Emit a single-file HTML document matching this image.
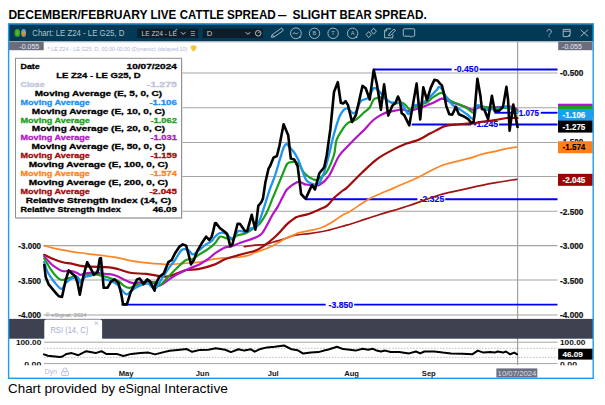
<!DOCTYPE html>
<html><head><meta charset="utf-8"><style>
html,body{margin:0;padding:0;background:#fff;}
body{width:605px;height:405px;overflow:hidden;position:relative;font-family:"Liberation Sans", sans-serif;}
svg{position:absolute;left:0;top:0;}
svg text{font-family:"Liberation Sans", sans-serif;}
</style></head><body>
<svg width="605" height="405" viewBox="0 0 605 405">
<rect x="8" y="23" width="585.5" height="355.5" fill="#ffffff"/>
<rect x="8" y="23.6" width="585.5" height="17.8" fill="#023954"/>
<rect x="8" y="41.4" width="585" height="1.3" fill="#c0c4c8" opacity="0.6"/>
<ellipse cx="17.3" cy="32.9" rx="2.9" ry="3.9" fill="#3c9e22"/>
<ellipse cx="17.3" cy="32.9" rx="1.1" ry="2.6" fill="#52c030"/>
<ellipse cx="23.6" cy="32.9" rx="2.5" ry="3.9" fill="#8a98a8"/>
<ellipse cx="23.6" cy="31.6" rx="1.6" ry="1.6" fill="#48a8e0"/>
<ellipse cx="23.6" cy="34.2" rx="1.6" ry="2" fill="#f07818"/>
<ellipse cx="23.6" cy="33" rx="1.4" ry="0.8" fill="#c8c020"/>
<text x="32.3" y="35.9" font-size="8.3" fill="#b4c2ce" font-weight="normal" text-anchor="start" textLength="92" lengthAdjust="spacingAndGlyphs">Chart: LE Z24 - LE G25, D</text>
<rect x="137.3" y="28.7" width="60.8" height="9.3" fill="#0d1e2a"/>
<text x="141.6" y="35.8" font-size="7.6" fill="#c8ccd0" font-weight="normal" text-anchor="start" textLength="35.4" lengthAdjust="spacingAndGlyphs">LE Z24 - LE</text>
<path d="M174.6 31.2 l2.6 -2.2" stroke="#3a9ee0" stroke-width="1.1"/>
<path d="M181 32.2 L183.2 34.4 L185.4 32.2" stroke="#c8ccd0" stroke-width="1" fill="none"/>
<path d="M190.8 31.5 h4.2 M190.8 33.5 h4.2 M190.8 35.5 h4.2" stroke="#98a4ae" stroke-width="0.8"/>
<rect x="202.9" y="28.7" width="59.9" height="9.3" fill="#0d1e2a"/>
<text x="206.8" y="35.8" font-size="7.6" fill="#c8ccd0" font-weight="normal" text-anchor="start">D</text>
<path d="M245.7 32.2 L247.9 34.4 L250.1 32.2" stroke="#c8ccd0" stroke-width="1" fill="none"/>
<circle cx="258.2" cy="33.3" r="2.8" stroke="#c8ccd0" stroke-width="0.9" fill="none"/>
<path d="M258.2 33.3 L259.6 31.8" stroke="#c8ccd0" stroke-width="0.9"/>
<path d="M271.2 37.2 L272.33 34.58 L281.63 27.98 L283.37 30.42 L274.07 37.02 Z M272.33 34.58 L274.07 37.02" stroke="#b4c0c8" stroke-width="0.9" fill="none" stroke-linejoin="round"/>
<circle cx="295.9" cy="33.3" r="5.4" stroke="#b4c0c8" stroke-width="0.9" fill="none"/>
<path d="M292.6 34.2 Q294 31.6 295.3 33.4 Q296.6 35 298.2 32.4" stroke="#b4c0c8" stroke-width="0.9" fill="none"/>
<circle cx="299.8" cy="37.2" r="0.9" fill="#b4c0c8"/>
<circle cx="314.5" cy="33.3" r="5.2" stroke="#b4c0c8" stroke-width="0.9" fill="none"/>
<text x="314.5" y="35.3" font-size="5.8" fill="#a8b4bc" font-weight="normal" text-anchor="middle">B</text>
<circle cx="333.1" cy="33.3" r="5.2" stroke="#b4c0c8" stroke-width="0.9" fill="none"/>
<text x="333.1" y="35.3" font-size="5.8" fill="#a8b4bc" font-weight="normal" text-anchor="middle">T</text>
<circle cx="352.6" cy="33.3" r="5.2" stroke="#b4c0c8" stroke-width="0.9" fill="none"/>
<text x="352.6" y="35.3" font-size="5.8" fill="#a8b4bc" font-weight="normal" text-anchor="middle">A</text>
<circle cx="356.4" cy="37.1" r="0.9" fill="#b4c0c8"/>
<path d="M368.7 31.6 l2.6 3 l-2.6 3 l-2.6 -3 z M373.7 28.2 l2.6 3 l-2.6 3 l-2.6 -3 z" stroke="#b4c0c8" stroke-width="0.9" fill="none" stroke-linejoin="round"/>
<path d="M386.6 28.8 h4.6 M386.6 28.8 l-2 2 v7 h8.2 v-3.4 M384.6 30.8 h2 v-2" stroke="#b4c0c8" stroke-width="0.9" fill="none" stroke-linejoin="round"/>
<path d="M388.6 35.6 l0.4 -1.8 l5 -4.8 l1.5 1.5 l-5 4.8 z" stroke="#b4c0c8" stroke-width="0.9" fill="none" stroke-linejoin="round"/>
<path d="M404.2 28.8 h9.6 a0.9 0.9 0 0 1 0.9 0.9 v5.6 a0.9 0.9 0 0 1 -0.9 0.9 h-1.6 l-1 1.2 l-1 -1.2 h-6 a0.9 0.9 0 0 1 -0.9 -0.9 v-5.6 a0.9 0.9 0 0 1 0.9 -0.9 z" stroke="#b4c0c8" stroke-width="0.9" fill="none" stroke-linejoin="round"/>
<path d="M547 31.6 a2.2 2.2 0 1 1 3.2 2 c-0.9 0.5 -1.1 0.9 -1.1 1.8" stroke="#b4c0c8" stroke-width="0.9" fill="none"/>
<circle cx="549.1" cy="36.6" r="0.55" fill="#b4c0c8"/>
<path d="M563.2 29.4 h7 v4.8 l-2.4 2.4 h-4.6 z M563.2 31.3 h7" stroke="#b4c0c8" stroke-width="0.9" fill="none"/>
<path d="M567.6 36.6 l2.6 -2.6 v2.6 z" fill="#b4c0c8"/>
<path d="M580.6 29.8 l7.4 6.5 M588 29.8 l-7.4 6.5" stroke="#b4c0c8" stroke-width="0.9"/>
<line x1="43.5" y1="73.0" x2="557.5" y2="73.0" stroke="#a4a4a4" stroke-width="1.05"/>
<line x1="43.5" y1="107.8" x2="557.5" y2="107.8" stroke="#a4a4a4" stroke-width="1.05"/>
<line x1="43.5" y1="142.5" x2="557.5" y2="142.5" stroke="#a4a4a4" stroke-width="1.05"/>
<line x1="43.5" y1="176.5" x2="557.5" y2="176.5" stroke="#a4a4a4" stroke-width="1.05"/>
<line x1="43.5" y1="211.3" x2="557.5" y2="211.3" stroke="#a4a4a4" stroke-width="1.05"/>
<line x1="43.5" y1="245.6" x2="557.5" y2="245.6" stroke="#a4a4a4" stroke-width="1.05"/>
<line x1="43.5" y1="280.0" x2="557.5" y2="280.0" stroke="#a4a4a4" stroke-width="1.05"/>
<line x1="43.5" y1="314.9" x2="557.5" y2="314.9" stroke="#a4a4a4" stroke-width="1.05"/>
<line x1="517.6" y1="42" x2="517.6" y2="365.5" stroke="#a0a0a6" stroke-width="1.2"/>
<rect x="9" y="41.8" width="34.7" height="8.4" fill="#6b6d7d"/>
<text x="19.3" y="48.7" font-size="7.3" fill="#e6e8f0" font-weight="normal" text-anchor="start" textLength="20" lengthAdjust="spacingAndGlyphs">-0.055</text>
<text x="47.7" y="50.5" font-size="5.2" fill="#b0b4d8" font-weight="normal" text-anchor="start" textLength="139.7" lengthAdjust="spacingAndGlyphs">* LE Z24 - LE G25, D, 00:00-00:00 (Dynamic) (delayed 10)</text>
<path d="M190.6 46.2 q3 -2 6.2 0.2 q-0.3 3.4 -3 5.2 q-3.2 -1.6 -3.2 -5.4z" fill="#f6c43a"/>
<rect x="558.2" y="41.8" width="34.3" height="8.4" fill="#6b6d7d"/>
<text x="562.1" y="48.7" font-size="7.3" fill="#e6e8f0" font-weight="normal" text-anchor="start" textLength="19.8" lengthAdjust="spacingAndGlyphs">-0.055</text>
<text x="41.1" y="249.15000000000003" font-size="8.2" fill="#101010" font-weight="bold" text-anchor="end" textLength="22.8" lengthAdjust="spacingAndGlyphs" stroke="#101010" stroke-width="0.2">-3.000</text>
<text x="41.1" y="283.72" font-size="8.2" fill="#101010" font-weight="bold" text-anchor="end" textLength="22.8" lengthAdjust="spacingAndGlyphs" stroke="#101010" stroke-width="0.2">-3.500</text>
<text x="41.1" y="318.29" font-size="8.2" fill="#101010" font-weight="bold" text-anchor="end" textLength="22.8" lengthAdjust="spacingAndGlyphs" stroke="#101010" stroke-width="0.2">-4.000</text>
<text x="45.5" y="316.5" font-size="5.2" fill="#909090" font-weight="normal" text-anchor="start" textLength="41" lengthAdjust="spacingAndGlyphs">© eSignal, 2024</text>
<text x="560.1" y="76.3" font-size="8.2" fill="#101010" font-weight="bold" text-anchor="start" textLength="23.2" lengthAdjust="spacingAndGlyphs" stroke="#101010" stroke-width="0.2">-0.500</text>
<text x="560.1" y="145.44000000000003" font-size="8.2" fill="#101010" font-weight="bold" text-anchor="start" textLength="23.2" lengthAdjust="spacingAndGlyphs" stroke="#101010" stroke-width="0.2">-1.500</text>
<text x="560.1" y="214.58" font-size="8.2" fill="#101010" font-weight="bold" text-anchor="start" textLength="23.2" lengthAdjust="spacingAndGlyphs" stroke="#101010" stroke-width="0.2">-2.500</text>
<text x="560.1" y="249.15000000000003" font-size="8.2" fill="#101010" font-weight="bold" text-anchor="start" textLength="23.2" lengthAdjust="spacingAndGlyphs" stroke="#101010" stroke-width="0.2">-3.000</text>
<text x="560.1" y="283.72" font-size="8.2" fill="#101010" font-weight="bold" text-anchor="start" textLength="23.2" lengthAdjust="spacingAndGlyphs" stroke="#101010" stroke-width="0.2">-3.500</text>
<text x="560.1" y="318.29" font-size="8.2" fill="#101010" font-weight="bold" text-anchor="start" textLength="23.2" lengthAdjust="spacingAndGlyphs" stroke="#101010" stroke-width="0.2">-4.000</text>
<line x1="373.5" y1="69.54" x2="451.7" y2="69.54" stroke="#0000f0" stroke-width="1.9"/>
<line x1="479.6" y1="69.54" x2="557.5" y2="69.54" stroke="#0000f0" stroke-width="1.9"/>
<text x="453.9" y="72.44" font-size="8.2" fill="#0000f0" font-weight="bold" text-anchor="start" textLength="24.6" lengthAdjust="spacingAndGlyphs" stroke="#0000f0" stroke-width="0.15">-0.450</text>
<line x1="494.5" y1="112.76" x2="517" y2="112.76" stroke="#0000f0" stroke-width="1.9"/>
<line x1="540.7" y1="112.76" x2="557.5" y2="112.76" stroke="#0000f0" stroke-width="1.9"/>
<text x="518.7" y="115.66" font-size="8.2" fill="#0000f0" font-weight="bold" text-anchor="start" textLength="20.3" lengthAdjust="spacingAndGlyphs" stroke="#0000f0" stroke-width="0.15">1.075</text>
<line x1="411.7" y1="124.51" x2="471" y2="124.51" stroke="#0000f0" stroke-width="1.9"/>
<line x1="499.1" y1="124.51" x2="557.5" y2="124.51" stroke="#0000f0" stroke-width="1.9"/>
<text x="473.5" y="127.41" font-size="8.2" fill="#0000f0" font-weight="bold" text-anchor="start" textLength="24.6" lengthAdjust="spacingAndGlyphs" stroke="#0000f0" stroke-width="0.15">-1.245</text>
<line x1="305.7" y1="199.18" x2="417.4" y2="199.18" stroke="#0000f0" stroke-width="1.9"/>
<line x1="445.3" y1="199.18" x2="557.5" y2="199.18" stroke="#0000f0" stroke-width="1.9"/>
<text x="419.7" y="202.08" font-size="8.2" fill="#0000f0" font-weight="bold" text-anchor="start" textLength="24.5" lengthAdjust="spacingAndGlyphs" stroke="#0000f0" stroke-width="0.15">-2.325</text>
<line x1="121.5" y1="304.62" x2="325.7" y2="304.62" stroke="#0000f0" stroke-width="1.9"/>
<line x1="354.2" y1="304.62" x2="557.5" y2="304.62" stroke="#0000f0" stroke-width="1.9"/>
<text x="328.6" y="307.52" font-size="8.2" fill="#0000f0" font-weight="bold" text-anchor="start" textLength="24.4" lengthAdjust="spacingAndGlyphs" stroke="#0000f0" stroke-width="0.15">-3.850</text>
<path d="M244.30 246.70 C246.08 246.43 251.57 245.47 255.00 245.10 C258.43 244.73 261.82 245.02 264.90 244.50 C267.98 243.98 270.62 242.82 273.50 242.00 C276.38 241.18 278.62 240.73 282.20 239.60 C285.78 238.47 290.47 236.20 295.00 235.20 C299.53 234.20 304.03 234.38 309.40 233.60 C314.77 232.82 321.27 231.83 327.20 230.50 C333.13 229.17 341.20 226.65 345.00 225.60 C348.80 224.55 347.50 224.97 350.00 224.20 C352.50 223.43 355.03 222.62 360.00 221.00 C364.97 219.38 371.55 217.08 379.80 214.50 C388.05 211.92 399.58 208.75 409.50 205.50 C419.42 202.25 429.38 197.88 439.30 195.00 C449.22 192.12 460.07 190.17 469.00 188.20 C477.93 186.23 484.95 184.68 492.90 183.20 C500.85 181.72 512.73 179.95 516.70 179.30" fill="none" stroke="#a01414" stroke-width="1.7" stroke-linejoin="round" stroke-linecap="round"/>
<path d="M44.20 245.60 C46.30 246.15 52.23 247.90 56.80 248.90 C61.37 249.90 66.67 250.82 71.60 251.60 C76.53 252.38 79.20 252.67 86.40 253.60 C93.60 254.53 107.28 255.98 114.80 257.20 C122.32 258.42 126.25 259.97 131.50 260.90 C136.75 261.83 140.17 262.22 146.30 262.80 C152.43 263.38 162.03 264.32 168.30 264.40 C174.57 264.48 178.72 263.67 183.90 263.30 C189.08 262.93 194.22 262.93 199.40 262.20 C204.58 261.47 207.52 259.88 215.00 258.90 C222.48 257.92 237.63 257.37 244.30 256.30 C250.97 255.23 251.17 253.85 255.00 252.50 C258.83 251.15 263.60 249.73 267.30 248.20 C271.00 246.67 274.10 244.95 277.20 243.30 C280.30 241.65 282.93 239.75 285.90 238.30 C288.87 236.85 293.05 235.48 295.00 234.60 C296.95 233.72 295.20 233.65 297.60 233.00 C300.00 232.35 305.45 231.57 309.40 230.70 C313.35 229.83 317.83 229.03 321.30 227.80 C324.77 226.57 327.23 225.03 330.20 223.30 C333.17 221.57 336.63 219.00 339.10 217.40 C341.57 215.80 343.18 214.70 345.00 213.70 C346.82 212.70 345.70 214.02 350.00 211.40 C354.30 208.78 363.37 201.97 370.80 198.00 C378.23 194.03 386.65 191.07 394.60 187.60 C402.55 184.13 410.55 180.92 418.50 177.20 C426.45 173.48 433.88 168.43 442.30 165.30 C450.72 162.17 462.87 160.12 469.00 158.40 C475.13 156.68 475.90 155.95 479.10 155.00 C482.30 154.05 485.17 153.38 488.20 152.70 C491.23 152.02 494.27 151.58 497.30 150.90 C500.33 150.22 503.15 149.25 506.40 148.60 C509.65 147.95 515.07 147.27 516.80 147.00" fill="none" stroke="#ff8424" stroke-width="1.7" stroke-linejoin="round" stroke-linecap="round"/>
<path d="M44.20 254.80 C45.82 255.55 50.82 258.07 53.90 259.30 C56.98 260.53 59.75 261.47 62.70 262.20 C65.65 262.93 68.63 263.08 71.60 263.70 C74.57 264.32 77.28 265.40 80.50 265.90 C83.72 266.40 86.10 266.45 90.90 266.70 C95.70 266.95 104.70 266.97 109.30 267.40 C113.90 267.83 114.80 268.37 118.50 269.30 C122.20 270.23 126.87 272.23 131.50 273.00 C136.13 273.77 140.53 273.28 146.30 273.90 C152.07 274.52 160.95 276.80 166.10 276.70 C171.25 276.60 173.87 274.42 177.20 273.30 C180.53 272.18 182.40 270.73 186.10 270.00 C189.80 269.27 194.58 269.83 199.40 268.90 C204.22 267.97 210.73 266.00 215.00 264.40 C219.27 262.80 220.87 260.90 225.00 259.30 C229.13 257.70 234.80 256.23 239.80 254.80 C244.80 253.37 251.43 251.90 255.00 250.70 C258.57 249.50 259.15 248.83 261.20 247.60 C263.25 246.37 265.25 244.85 267.30 243.30 C269.35 241.75 271.43 240.15 273.50 238.30 C275.57 236.45 277.43 234.57 279.70 232.20 C281.97 229.83 284.55 226.47 287.10 224.10 C289.65 221.73 293.25 219.23 295.00 218.00 C296.75 216.77 295.20 217.42 297.60 216.70 C300.00 215.98 305.70 214.93 309.40 213.70 C313.10 212.47 316.83 210.65 319.80 209.30 C322.77 207.95 324.73 207.58 327.20 205.60 C329.67 203.62 331.88 200.00 334.60 197.40 C337.32 194.80 341.53 191.55 343.50 190.00 C345.47 188.45 343.33 190.98 346.40 188.10 C349.47 185.22 356.83 177.50 361.90 172.70 C366.97 167.90 371.83 163.02 376.80 159.30 C381.77 155.58 386.75 153.02 391.70 150.40 C396.65 147.78 402.12 145.33 406.50 143.60 C410.88 141.87 414.08 141.68 418.00 140.00 C421.92 138.32 426.77 135.20 430.00 133.50 C433.23 131.80 434.93 131.03 437.40 129.80 C439.87 128.57 441.83 126.97 444.80 126.10 C447.77 125.23 451.50 125.02 455.20 124.60 C458.90 124.18 463.80 123.85 467.00 123.60 C470.20 123.35 471.68 123.42 474.40 123.10 C477.12 122.78 479.90 122.18 483.30 121.70 C486.70 121.22 490.90 120.82 494.80 120.20 C498.70 119.58 502.92 118.37 506.70 118.00 C510.48 117.63 515.70 118.00 517.50 118.00" fill="none" stroke="#a00a0a" stroke-width="2.2" stroke-linejoin="round" stroke-linecap="round"/>
<path d="M44.20 256.30 C45.32 257.53 48.80 261.73 50.90 263.70 C53.00 265.67 54.83 266.87 56.80 268.10 C58.77 269.33 60.23 270.60 62.70 271.10 C65.17 271.60 69.12 270.73 71.60 271.10 C74.08 271.47 76.12 272.68 77.60 273.30 C79.08 273.92 79.03 274.80 80.50 274.80 C81.97 274.80 84.17 273.67 86.40 273.30 C88.63 272.93 90.70 272.50 93.90 272.60 C97.10 272.70 102.42 273.53 105.60 273.90 C108.78 274.27 110.85 274.33 113.00 274.80 C115.15 275.27 116.35 275.77 118.50 276.70 C120.65 277.63 123.43 279.33 125.90 280.40 C128.37 281.47 130.52 282.80 133.30 283.10 C136.08 283.40 139.50 282.35 142.60 282.20 C145.70 282.05 149.10 281.63 151.90 282.20 C154.70 282.77 156.67 285.97 159.40 285.60 C162.13 285.23 165.33 281.87 168.30 280.00 C171.27 278.13 173.87 276.25 177.20 274.40 C180.53 272.55 184.60 270.57 188.30 268.90 C192.00 267.23 196.07 266.07 199.40 264.40 C202.73 262.73 205.70 260.75 208.30 258.90 C210.90 257.05 212.22 255.22 215.00 253.30 C217.78 251.38 222.35 248.50 225.00 247.40 C227.65 246.30 228.43 247.43 230.90 246.70 C233.37 245.97 235.78 244.50 239.80 243.00 C243.82 241.50 251.23 239.40 255.00 237.70 C258.77 236.00 259.50 236.58 262.40 232.80 C265.30 229.02 269.83 219.37 272.40 215.00 C274.97 210.63 276.07 209.65 277.80 206.60 C279.53 203.55 281.32 199.50 282.80 196.70 C284.28 193.90 285.22 191.68 286.70 189.80 C288.18 187.92 290.05 186.63 291.70 185.40 C293.35 184.17 295.28 182.98 296.60 182.40 C297.92 181.82 298.20 181.57 299.60 181.90 C301.00 182.23 303.88 183.97 305.00 184.40 C306.12 184.83 304.92 184.33 306.30 184.50 C307.68 184.67 311.02 185.40 313.30 185.40 C315.58 185.40 317.38 186.10 320.00 184.50 C322.62 182.90 325.83 180.55 329.00 175.80 C332.17 171.05 335.68 161.13 339.00 156.00 C342.32 150.87 345.42 148.67 348.90 145.00 C352.38 141.33 357.37 136.50 359.90 134.00 C362.43 131.50 362.07 132.13 364.10 130.00 C366.13 127.87 369.70 123.47 372.10 121.20 C374.50 118.93 376.10 117.87 378.50 116.40 C380.90 114.93 383.77 113.35 386.50 112.40 C389.23 111.45 392.27 111.18 394.90 110.70 C397.53 110.22 399.82 109.38 402.30 109.50 C404.78 109.62 407.73 111.40 409.80 111.40 C411.87 111.40 412.85 110.12 414.70 109.50 C416.55 108.88 418.85 108.42 420.90 107.70 C422.95 106.98 424.95 106.03 427.00 105.20 C429.05 104.37 430.72 103.78 433.20 102.70 C435.68 101.62 439.47 99.00 441.90 98.70 C444.33 98.40 445.33 100.03 447.80 100.90 C450.27 101.77 453.73 102.90 456.70 103.90 C459.67 104.90 462.77 105.92 465.60 106.90 C468.43 107.88 471.23 109.80 473.70 109.80 C476.17 109.80 477.87 107.27 480.40 106.90 C482.93 106.53 485.27 107.60 488.90 107.60 C492.53 107.60 498.25 107.02 502.20 106.90 C506.15 106.78 510.05 106.38 512.60 106.90 C515.15 107.42 516.68 109.48 517.50 110.00" fill="none" stroke="#b414c8" stroke-width="2.2" stroke-linejoin="round" stroke-linecap="round"/>
<path d="M44.20 258.50 C45.32 260.35 48.80 266.52 50.90 269.60 C53.00 272.68 54.95 275.27 56.80 277.00 C58.65 278.73 59.78 279.87 62.00 280.00 C64.22 280.13 67.75 278.42 70.10 277.80 C72.45 277.18 74.37 275.82 76.10 276.30 C77.83 276.78 78.78 280.82 80.50 280.70 C82.22 280.58 84.17 276.70 86.40 275.60 C88.63 274.50 90.70 273.92 93.90 274.10 C97.10 274.28 102.73 275.97 105.60 276.70 C108.47 277.43 108.95 277.73 111.10 278.50 C113.25 279.27 116.33 280.07 118.50 281.30 C120.67 282.53 122.25 284.82 124.10 285.90 C125.95 286.98 127.45 287.95 129.60 287.80 C131.75 287.65 134.22 285.72 137.00 285.00 C139.78 284.28 143.20 283.97 146.30 283.50 C149.40 283.03 153.42 281.85 155.60 282.20 C157.78 282.55 157.28 286.52 159.40 285.60 C161.52 284.68 165.33 279.67 168.30 276.70 C171.27 273.73 174.23 270.58 177.20 267.80 C180.17 265.02 183.50 261.48 186.10 260.00 C188.70 258.52 190.58 259.83 192.80 258.90 C195.02 257.97 196.82 256.07 199.40 254.40 C201.98 252.73 205.70 250.75 208.30 248.90 C210.90 247.05 213.08 245.33 215.00 243.30 C216.92 241.27 218.13 237.62 219.80 236.70 C221.47 235.78 222.90 237.37 225.00 237.80 C227.10 238.23 230.42 239.67 232.40 239.30 C234.38 238.93 234.68 236.60 236.90 235.60 C239.12 234.60 242.68 234.70 245.70 233.30 C248.72 231.90 252.63 228.83 255.00 227.20 C257.37 225.57 257.98 225.87 259.90 223.50 C261.82 221.13 264.33 217.30 266.50 213.00 C268.67 208.70 271.02 202.22 272.90 197.70 C274.78 193.18 276.23 189.68 277.80 185.90 C279.37 182.12 280.72 178.70 282.30 175.00 C283.88 171.30 285.60 165.87 287.30 163.70 C289.00 161.53 291.05 162.28 292.50 162.00 C293.95 161.72 294.85 161.57 296.00 162.00 C297.15 162.43 298.12 162.87 299.40 164.60 C300.68 166.33 301.97 170.23 303.70 172.40 C305.43 174.57 307.63 176.30 309.80 177.60 C311.97 178.90 315.00 180.20 316.70 180.20 C318.40 180.20 318.33 178.97 320.00 177.60 C321.67 176.23 324.37 175.80 326.70 172.00 C329.03 168.20 332.37 160.10 334.00 154.80 C335.63 149.50 334.97 144.60 336.50 140.20 C338.03 135.80 341.28 131.30 343.20 128.40 C345.12 125.50 345.87 124.27 348.00 122.80 C350.13 121.33 353.32 121.33 356.00 119.60 C358.68 117.87 361.82 114.42 364.10 112.40 C366.38 110.38 368.10 109.65 369.70 107.50 C371.30 105.35 372.23 101.10 373.70 99.50 C375.17 97.90 376.90 98.30 378.50 97.90 C380.10 97.50 381.68 96.57 383.30 97.10 C384.92 97.63 386.25 100.03 388.20 101.10 C390.15 102.17 392.65 103.23 395.00 103.50 C397.35 103.77 400.25 102.12 402.30 102.70 C404.35 103.28 406.05 105.87 407.30 107.00 C408.55 108.13 408.57 109.50 409.80 109.50 C411.03 109.50 413.07 107.72 414.70 107.00 C416.33 106.28 417.95 105.82 419.60 105.20 C421.25 104.58 423.15 103.92 424.60 103.30 C426.05 102.68 426.87 102.52 428.30 101.50 C429.73 100.48 431.07 98.65 433.20 97.20 C435.33 95.75 439.17 93.05 441.10 92.80 C443.03 92.55 443.20 94.35 444.80 95.70 C446.40 97.05 448.23 99.42 450.70 100.90 C453.17 102.38 456.88 103.37 459.60 104.60 C462.32 105.83 464.65 106.93 467.00 108.30 C469.35 109.67 472.08 113.17 473.70 112.80 C475.32 112.43 473.98 106.93 476.70 106.10 C479.42 105.27 485.62 107.52 490.00 107.80 C494.38 108.08 499.33 107.70 503.00 107.80 C506.67 107.90 509.58 107.80 512.00 108.40 C514.42 109.00 516.58 110.90 517.50 111.40" fill="none" stroke="#18a018" stroke-width="2.2" stroke-linejoin="round" stroke-linecap="round"/>
<path d="M44.20 262.20 C44.82 263.93 46.28 269.38 47.90 272.60 C49.52 275.82 51.67 278.78 53.90 281.50 C56.13 284.22 59.33 288.65 61.30 288.90 C63.27 289.15 63.98 284.73 65.70 283.00 C67.42 281.27 69.62 279.50 71.60 278.50 C73.58 277.50 76.12 276.25 77.60 277.00 C79.08 277.75 79.27 283.00 80.50 283.00 C81.73 283.00 83.27 278.23 85.00 277.00 C86.73 275.77 89.18 276.22 90.90 275.60 C92.62 274.98 93.82 274.42 95.30 273.30 C96.78 272.18 98.40 268.03 99.80 268.90 C101.20 269.77 102.12 276.58 103.70 278.50 C105.28 280.42 107.13 279.47 109.30 280.40 C111.47 281.33 114.55 282.40 116.70 284.10 C118.85 285.80 120.50 288.90 122.20 290.60 C123.90 292.30 125.35 294.30 126.90 294.30 C128.45 294.30 129.82 291.83 131.50 290.60 C133.18 289.37 135.15 287.90 137.00 286.90 C138.85 285.90 140.75 285.17 142.60 284.60 C144.45 284.03 146.03 282.78 148.10 283.50 C150.17 284.22 152.73 289.67 155.00 288.90 C157.27 288.13 159.48 282.23 161.70 278.90 C163.92 275.57 166.08 272.05 168.30 268.90 C170.52 265.75 172.77 263.15 175.00 260.00 C177.23 256.85 179.48 251.67 181.70 250.00 C183.92 248.33 186.45 249.27 188.30 250.00 C190.15 250.73 190.95 254.40 192.80 254.40 C194.65 254.40 197.18 251.67 199.40 250.00 C201.62 248.33 204.05 245.88 206.10 244.40 C208.15 242.92 210.22 242.38 211.70 241.10 C213.18 239.82 213.65 238.05 215.00 236.70 C216.35 235.35 218.13 233.57 219.80 233.00 C221.47 232.43 222.90 232.38 225.00 233.30 C227.10 234.22 230.18 238.87 232.40 238.50 C234.62 238.13 236.08 232.20 238.30 231.10 C240.52 230.00 243.47 232.40 245.70 231.90 C247.93 231.40 249.97 228.85 251.70 228.10 C253.43 227.35 254.62 229.12 256.10 227.40 C257.58 225.68 259.12 221.63 260.60 217.80 C262.08 213.97 263.43 209.23 265.00 204.40 C266.57 199.57 268.30 193.70 270.00 188.80 C271.70 183.90 273.47 180.18 275.20 175.00 C276.93 169.82 278.97 162.32 280.40 157.70 C281.83 153.08 282.80 149.62 283.80 147.30 C284.80 144.98 285.53 143.95 286.40 143.80 C287.27 143.65 287.70 144.95 289.00 146.40 C290.30 147.85 292.62 150.18 294.20 152.50 C295.78 154.82 297.20 157.42 298.50 160.30 C299.80 163.18 300.70 166.48 302.00 169.80 C303.30 173.12 304.72 177.90 306.30 180.20 C307.88 182.50 309.77 182.88 311.50 183.60 C313.23 184.32 315.28 184.78 316.70 184.50 C318.12 184.22 318.75 183.98 320.00 181.90 C321.25 179.82 322.70 176.52 324.20 172.00 C325.70 167.48 327.37 161.13 329.00 154.80 C330.63 148.47 332.17 140.53 334.00 134.00 C335.83 127.47 337.93 119.88 340.00 115.60 C342.07 111.32 344.00 108.70 346.40 108.30 C348.80 107.90 351.98 114.40 354.40 113.20 C356.82 112.00 358.62 103.65 360.90 101.10 C363.18 98.55 365.97 100.03 368.10 97.90 C370.23 95.77 371.97 89.50 373.70 88.30 C375.43 87.10 376.77 89.23 378.50 90.70 C380.23 92.17 382.22 95.23 384.10 97.10 C385.98 98.97 388.00 100.97 389.80 101.90 C391.60 102.83 393.02 102.47 394.90 102.70 C396.78 102.93 399.25 101.97 401.10 103.30 C402.95 104.63 404.67 108.95 406.00 110.70 C407.33 112.45 407.75 114.62 409.10 113.80 C410.45 112.98 412.55 107.33 414.10 105.80 C415.65 104.27 416.87 105.22 418.40 104.60 C419.93 103.98 421.87 102.83 423.30 102.10 C424.73 101.37 425.55 101.43 427.00 100.20 C428.45 98.97 430.35 96.43 432.00 94.70 C433.65 92.97 435.75 91.10 436.90 89.80 C438.05 88.50 438.07 87.02 438.90 86.90 C439.73 86.78 440.67 87.38 441.90 89.10 C443.13 90.82 444.58 94.62 446.30 97.20 C448.02 99.78 449.98 102.62 452.20 104.60 C454.42 106.58 457.13 107.48 459.60 109.10 C462.07 110.72 464.65 112.70 467.00 114.30 C469.35 115.90 472.08 120.07 473.70 118.70 C475.32 117.33 475.47 108.20 476.70 106.10 C477.93 104.00 479.57 105.48 481.10 106.10 C482.63 106.72 484.10 109.30 485.90 109.80 C487.70 110.30 489.92 109.10 491.90 109.10 C493.88 109.10 495.83 110.05 497.80 109.80 C499.77 109.55 502.10 108.22 503.70 107.60 C505.30 106.98 506.17 105.98 507.40 106.10 C508.63 106.22 509.87 107.43 511.10 108.30 C512.33 109.17 513.73 110.60 514.80 111.30 C515.87 112.00 517.05 112.30 517.50 112.50" fill="none" stroke="#1e96f0" stroke-width="2.3" stroke-linejoin="round" stroke-linecap="round"/>
<polyline points="44.3,265 45.7,277 48.7,284.4 52.4,288.9 56.8,294.1 59,296.3 62,297 65.7,280 68.7,270.4 71.6,273.3 75.3,276.3 77.6,283 79.8,294.8 83.5,275.6 87.2,262.2 90.9,268.9 93.9,274.8 97.6,271.9 99.8,258.5 100.9,258.1 103.7,287.8 107.4,287.8 111.1,281.3 114.8,279.4 118.5,283.1 121.3,294.3 123.1,304.4 126.9,304.4 130.6,292.4 134.3,285 137,279.4 139.8,278.5 143.5,284.1 147.2,279.4 150,281.3 154.6,290.6 155,285.6 159.4,276.7 163.9,273.3 168.3,262.2 171.7,260 175,253.3 179.4,246.7 182.8,244.4 186.1,245.6 188.3,253.3 191,264.4 193.9,260 197.2,251.1 201.7,243.3 206.1,236.7 209.4,240 211.7,236.7 213.2,231.1 215,223.3 216,223 219.8,228 224.7,231.7 227.2,234 230.2,245.9 232.4,244.4 237.6,223.7 239.8,223.7 245,231.1 247.2,231.1 251.7,214.8 255.4,229.6 258.3,205.9 261.3,202.2 263,198.4 265.4,182.3 268.6,168.4 270,166.3 273.5,157.7 276.9,156 279.5,145.6 283.6,124.3 288.2,135.2 290.8,158.5 294.2,159.4 297.7,166.3 301.1,194 304.6,197.8 305.7,198.8 309.4,190.6 312,185 315,189.5 319.3,173.3 322,170 324.2,167.2 326.7,155.5 330.4,129 334,92 337.8,82.2 340.8,102.7 343.2,103.5 345.6,101.1 348,105.1 352,122 356,114.8 362.5,85.9 365.7,88.3 369.7,99.5 373.7,69.8 376.9,84.3 380.9,109.9 384.1,84.3 388.2,115.6 392.2,105.9 395.6,102.7 398,96.5 399.9,100.9 401.7,113.2 404.2,115.1 409.3,125.4 416.6,83.6 420.2,119.4 423.3,87.3 427,100.2 430.7,87.9 434.4,79.9 437.5,80.5 440,83.6 441.9,85.4 444.1,94.3 446.3,106.1 449.3,114.3 452.2,114.7 455.9,106.9 458.9,114.3 464.1,116.5 468.5,119.4 471.5,123.1 473.7,121.7 477.4,78.7 480.4,95.7 481.9,109.1 484.4,109.8 488.1,119.4 491.9,95.7 494.8,111.3 499.3,110.6 503,106.9 506.4,86.9 508.1,100.2 509.6,130.6 513.3,104.6 517.5,127" fill="none" stroke="#000000" stroke-width="2.6" stroke-linejoin="round" stroke-linecap="round"/>
<rect x="558" y="103.71333999999999" width="34.7" height="12" fill="#b414c8"/>
<text x="562.6" y="112.81333999999998" font-size="8.6" fill="#fff" font-weight="bold" text-anchor="start" textLength="22.7" lengthAdjust="spacingAndGlyphs" stroke="#fff" stroke-width="0.15"></text>
<rect x="558" y="105.85668000000001" width="34.7" height="12" fill="#18a018"/>
<text x="562.6" y="114.95668" font-size="8.6" fill="#fff" font-weight="bold" text-anchor="start" textLength="22.7" lengthAdjust="spacingAndGlyphs" stroke="#fff" stroke-width="0.15"></text>
<rect x="558" y="108.89884" width="34.7" height="12" fill="#1e9cf0"/>
<text x="562.6" y="117.99884" font-size="8.6" fill="#ffffff" font-weight="bold" text-anchor="start" textLength="22.7" lengthAdjust="spacingAndGlyphs" stroke="#ffffff" stroke-width="0.15">-1.106</text>
<rect x="558" y="120.58349999999999" width="34.7" height="12" fill="#000000"/>
<text x="562.6" y="129.68349999999998" font-size="8.6" fill="#ffffff" font-weight="bold" text-anchor="start" textLength="22.7" lengthAdjust="spacingAndGlyphs" stroke="#ffffff" stroke-width="0.15">-1.275</text>
<rect x="558" y="141.25636" width="34.7" height="12" fill="#ff7f1e"/>
<text x="562.6" y="150.35636" font-size="8.6" fill="#000000" font-weight="bold" text-anchor="start" textLength="22.7" lengthAdjust="spacingAndGlyphs" stroke="#000000" stroke-width="0.15">-1.574</text>
<rect x="558" y="173.8213" width="34.7" height="12" fill="#9a0404"/>
<text x="562.6" y="182.9213" font-size="8.6" fill="#ffffff" font-weight="bold" text-anchor="start" textLength="22.7" lengthAdjust="spacingAndGlyphs" stroke="#ffffff" stroke-width="0.15">-2.045</text>
<rect x="16.5" y="59.3" width="166" height="159.6" fill="#d8d8d8"/>
<rect x="15.5" y="58.3" width="166" height="159.6" fill="#ffffff" stroke="#909090" stroke-width="1"/>
<text x="20.5" y="69.0" font-size="7.6" fill="#000" font-weight="bold" text-anchor="start" textLength="19.2" lengthAdjust="spacingAndGlyphs" stroke="#000" stroke-width="0.3">Date</text>
<text x="126.6" y="69.0" font-size="7.6" fill="#000" font-weight="bold" text-anchor="start" textLength="50.3" lengthAdjust="spacingAndGlyphs" stroke="#000" stroke-width="0.3">10/07/2024</text>
<text x="56.25" y="77.92" font-size="7.6" fill="#000" font-weight="bold" text-anchor="start" textLength="84.3" lengthAdjust="spacingAndGlyphs" stroke="#000" stroke-width="0.3">LE Z24 - LE G25, D</text>
<text x="20.5" y="86.84" font-size="7.6" fill="#c0c4dc" font-weight="bold" text-anchor="start" textLength="24.1" lengthAdjust="spacingAndGlyphs" stroke="#c0c4dc" stroke-width="0.3">Close</text>
<text x="147.1" y="86.84" font-size="7.6" fill="#c0c4dc" font-weight="bold" text-anchor="start" textLength="29.8" lengthAdjust="spacingAndGlyphs" stroke="#c0c4dc" stroke-width="0.3">-1.275</text>
<text x="34.75" y="95.76" font-size="7.6" fill="#000" font-weight="bold" text-anchor="start" textLength="127.3" lengthAdjust="spacingAndGlyphs" stroke="#000" stroke-width="0.3">Moving Average (E, 5, 0, C)</text>
<text x="20.5" y="104.68" font-size="7.6" fill="#1e90f0" font-weight="bold" text-anchor="start" textLength="69.4" lengthAdjust="spacingAndGlyphs" stroke="#1e90f0" stroke-width="0.3">Moving Average</text>
<text x="149.4" y="104.68" font-size="7.6" fill="#1e90f0" font-weight="bold" text-anchor="start" textLength="27.5" lengthAdjust="spacingAndGlyphs" stroke="#1e90f0" stroke-width="0.3">-1.106</text>
<text x="31.8" y="113.6" font-size="7.6" fill="#000" font-weight="bold" text-anchor="start" textLength="133.2" lengthAdjust="spacingAndGlyphs" stroke="#000" stroke-width="0.3">Moving Average (E, 10, 0, C)</text>
<text x="20.5" y="122.52" font-size="7.6" fill="#18a018" font-weight="bold" text-anchor="start" textLength="69.4" lengthAdjust="spacingAndGlyphs" stroke="#18a018" stroke-width="0.3">Moving Average</text>
<text x="150.4" y="122.52" font-size="7.6" fill="#18a018" font-weight="bold" text-anchor="start" textLength="26.5" lengthAdjust="spacingAndGlyphs" stroke="#18a018" stroke-width="0.3">-1.062</text>
<text x="31.8" y="131.44" font-size="7.6" fill="#000" font-weight="bold" text-anchor="start" textLength="133.2" lengthAdjust="spacingAndGlyphs" stroke="#000" stroke-width="0.3">Moving Average (E, 20, 0, C)</text>
<text x="20.5" y="140.36" font-size="7.6" fill="#b414c8" font-weight="bold" text-anchor="start" textLength="69.4" lengthAdjust="spacingAndGlyphs" stroke="#b414c8" stroke-width="0.3">Moving Average</text>
<text x="150.4" y="140.36" font-size="7.6" fill="#b414c8" font-weight="bold" text-anchor="start" textLength="26.5" lengthAdjust="spacingAndGlyphs" stroke="#b414c8" stroke-width="0.3">-1.031</text>
<text x="31.45" y="149.28" font-size="7.6" fill="#000" font-weight="bold" text-anchor="start" textLength="133.9" lengthAdjust="spacingAndGlyphs" stroke="#000" stroke-width="0.3">Moving Average (E, 50, 0, C)</text>
<text x="20.5" y="158.2" font-size="7.6" fill="#a00a0a" font-weight="bold" text-anchor="start" textLength="69.4" lengthAdjust="spacingAndGlyphs" stroke="#a00a0a" stroke-width="0.3">Moving Average</text>
<text x="150.4" y="158.2" font-size="7.6" fill="#a00a0a" font-weight="bold" text-anchor="start" textLength="26.5" lengthAdjust="spacingAndGlyphs" stroke="#a00a0a" stroke-width="0.3">-1.159</text>
<text x="28.65" y="167.12" font-size="7.6" fill="#000" font-weight="bold" text-anchor="start" textLength="139.5" lengthAdjust="spacingAndGlyphs" stroke="#000" stroke-width="0.3">Moving Average (E, 100, 0, C)</text>
<text x="20.5" y="176.04" font-size="7.6" fill="#ff8424" font-weight="bold" text-anchor="start" textLength="69.4" lengthAdjust="spacingAndGlyphs" stroke="#ff8424" stroke-width="0.3">Moving Average</text>
<text x="150.4" y="176.04" font-size="7.6" fill="#ff8424" font-weight="bold" text-anchor="start" textLength="26.5" lengthAdjust="spacingAndGlyphs" stroke="#ff8424" stroke-width="0.3">-1.574</text>
<text x="28.65" y="184.96" font-size="7.6" fill="#000" font-weight="bold" text-anchor="start" textLength="139.5" lengthAdjust="spacingAndGlyphs" stroke="#000" stroke-width="0.3">Moving Average (E, 200, 0, C)</text>
<text x="20.5" y="193.88" font-size="7.6" fill="#a00a0a" font-weight="bold" text-anchor="start" textLength="69.4" lengthAdjust="spacingAndGlyphs" stroke="#a00a0a" stroke-width="0.3">Moving Average</text>
<text x="149.4" y="193.88" font-size="7.6" fill="#a00a0a" font-weight="bold" text-anchor="start" textLength="27.5" lengthAdjust="spacingAndGlyphs" stroke="#a00a0a" stroke-width="0.3">-2.045</text>
<text x="25.7" y="202.8" font-size="7.6" fill="#000" font-weight="bold" text-anchor="start" textLength="145.4" lengthAdjust="spacingAndGlyphs" stroke="#000" stroke-width="0.3">Relative Strength Index (14, C)</text>
<text x="20.5" y="211.72" font-size="7.6" fill="#000" font-weight="bold" text-anchor="start" textLength="100.2" lengthAdjust="spacingAndGlyphs" stroke="#000" stroke-width="0.3">Relative Strength Index</text>
<text x="152.7" y="211.72" font-size="7.6" fill="#000" font-weight="bold" text-anchor="start" textLength="24.2" lengthAdjust="spacingAndGlyphs" stroke="#000" stroke-width="0.3">46.09</text>
<rect x="9" y="318.9" width="584" height="19.8" fill="#3e4250"/>
<path d="M44.3 339.2 V321.4 a1.8 1.8 0 0 1 1.8 -1.8 H100.3 a1.8 1.8 0 0 1 1.8 1.8 V339.2 Z" fill="#ffffff"/>
<text x="50.4" y="332.9" font-size="8.6" fill="#a4acd4" font-weight="normal" text-anchor="start" textLength="37.9" lengthAdjust="spacingAndGlyphs">RSI (14, C)</text>
<path d="M94.8 321.6 l3.2 3.2 M98 321.6 l-3.2 3.2" stroke="#a8aed4" stroke-width="0.9"/>
<line x1="44" y1="342.2" x2="557.5" y2="342.2" stroke="#a4a4a4" stroke-width="1"/>
<line x1="44" y1="363.6" x2="557.5" y2="363.6" stroke="#a4a4a4" stroke-width="1"/>
<line x1="44" y1="348.3" x2="557.5" y2="348.3" stroke="#a8a8a8" stroke-width="0.7" stroke-dasharray="1.6 1.4"/>
<line x1="44" y1="357.4" x2="557.5" y2="357.4" stroke="#a8a8a8" stroke-width="0.7" stroke-dasharray="1.6 1.4"/>
<text x="41.3" y="345" font-size="7.4" fill="#101010" font-weight="bold" text-anchor="end" textLength="25.4" lengthAdjust="spacingAndGlyphs">100.00</text>
<text x="41.3" y="366.6" font-size="7.4" fill="#101010" font-weight="bold" text-anchor="end" textLength="17" lengthAdjust="spacingAndGlyphs">0.00</text>
<text x="560" y="345" font-size="7.4" fill="#101010" font-weight="bold" text-anchor="start" textLength="25.4" lengthAdjust="spacingAndGlyphs">100.00</text>
<text x="560" y="366.6" font-size="7.4" fill="#101010" font-weight="bold" text-anchor="start" textLength="17" lengthAdjust="spacingAndGlyphs">0.00</text>
<polyline points="44,354.4 47.9,355.7 59.8,357 62.5,356.5 66.5,353.9 71.7,353.1 78.4,355.2 82.3,353.1 86.3,351.2 95.6,353.1 101.4,351.2 106.1,353.9 116.7,353.9 123.3,356 131.3,353.9 140.5,353.1 148.5,352.6 155.1,354.4 161.7,352.6 169.6,350.7 177.6,349.9 186.8,349.1 192.1,351.8 200,349.9 208.4,349.8 215.7,348.3 225.2,349.8 230.9,352.1 238.5,349.3 244.2,350.6 250.9,349.3 254.7,351.7 259.4,349.3 267,347.4 274.6,346.8 284.1,345.5 291.7,349.3 297.5,350.2 303.2,353.6 310.8,352.5 318.4,352.1 325,350.2 327.6,349.8 337.1,346.8 343,349.1 350,349.8 355.6,350.6 362.6,348.7 368.3,349.8 372.5,348.7 376.7,350.6 380.9,351.5 385.1,350.6 390.7,352 399.2,352 409,353.4 416,351.5 420.2,353.4 424.4,351.5 434.3,351.5 442.7,352.6 451.1,353.4 462.4,353.7 472.2,354.3 477.8,350.6 483.4,352.6 490.4,352 494.7,352.6 497.5,351.5 503.1,352.6 505.9,351.5 510.1,354.3 514.3,352.6 517.1,354.3" fill="none" stroke="#000000" stroke-width="2.0" stroke-linejoin="round" stroke-linecap="round"/>
<rect x="558.2" y="348.7" width="34.5" height="10.9" fill="#000000"/>
<text x="562.4" y="356.9" font-size="8.0" fill="#ffffff" font-weight="bold" text-anchor="start" textLength="20.4" lengthAdjust="spacingAndGlyphs" stroke="#fff" stroke-width="0.1">46.09</text>
<rect x="9" y="365.3" width="584" height="13" fill="#ffffff"/>
<text x="44.8" y="374.3" font-size="6.4" fill="#b4b8d8" font-weight="normal" text-anchor="start" textLength="12.2" lengthAdjust="spacingAndGlyphs">Dyn</text>
<rect x="61.6" y="371.6" width="6.8" height="3.9" rx="0.6" fill="none" stroke="#b4b8d8" stroke-width="0.9"/>
<path d="M63 371.6 v-1.6 a2 2 0 0 1 4 0 v1.6" fill="none" stroke="#b4b8d8" stroke-width="0.9"/>
<rect x="64.6" y="372.6" width="0.9" height="1.6" fill="#b4b8d8"/>
<text x="126.1" y="375.6" font-size="7.6" fill="#141414" font-weight="bold" text-anchor="middle">May</text>
<text x="202.6" y="375.6" font-size="7.6" fill="#141414" font-weight="bold" text-anchor="middle">Jun</text>
<text x="273.2" y="375.6" font-size="7.6" fill="#141414" font-weight="bold" text-anchor="middle">Jul</text>
<text x="351.6" y="375.6" font-size="7.6" fill="#141414" font-weight="bold" text-anchor="middle">Aug</text>
<text x="428.8" y="375.6" font-size="7.6" fill="#141414" font-weight="bold" text-anchor="middle">Sep</text>
<rect x="496.4" y="368.4" width="40.9" height="9.1" fill="#6a6f80"/>
<text x="497.6" y="375.9" font-size="7.8" fill="#dcdfe8" font-weight="normal" text-anchor="start" textLength="38.8" lengthAdjust="spacingAndGlyphs">10/07/2024</text>
<rect x="8.6" y="23.9" width="584.6" height="354.4" fill="none" stroke="#1e9cf0" stroke-width="1.4"/>
<text x="8.4" y="18.8" font-size="12.4" fill="#000" font-weight="bold" text-anchor="start" textLength="139.1" lengthAdjust="spacingAndGlyphs">DECEMBER/FEBRUARY</text>
<text x="150.5" y="18.8" font-size="12.4" fill="#000" font-weight="bold" text-anchor="start" textLength="25.8" lengthAdjust="spacingAndGlyphs">LIVE</text>
<text x="179.8" y="18.8" font-size="12.4" fill="#000" font-weight="bold" text-anchor="start" textLength="44.2" lengthAdjust="spacingAndGlyphs">CATTLE</text>
<text x="227.0" y="18.8" font-size="12.4" fill="#000" font-weight="bold" text-anchor="start" textLength="48.8" lengthAdjust="spacingAndGlyphs">SPREAD</text>
<text x="277.5" y="18.8" font-size="12.4" fill="#000" font-weight="bold" text-anchor="start" textLength="9.4" lengthAdjust="spacingAndGlyphs">–</text>
<text x="292.4" y="18.8" font-size="12.4" fill="#000" font-weight="bold" text-anchor="start" textLength="44.1" lengthAdjust="spacingAndGlyphs">SLIGHT</text>
<text x="339.5" y="18.8" font-size="12.4" fill="#000" font-weight="bold" text-anchor="start" textLength="32.2" lengthAdjust="spacingAndGlyphs">BEAR</text>
<text x="374.5" y="18.8" font-size="12.4" fill="#000" font-weight="bold" text-anchor="start" textLength="52.2" lengthAdjust="spacingAndGlyphs">SPREAD.</text>
<text x="8.1" y="392.8" font-size="12.4" fill="#000" font-weight="normal" text-anchor="start" textLength="32.6" lengthAdjust="spacingAndGlyphs">Chart</text>
<text x="44.4" y="392.8" font-size="12.4" fill="#000" font-weight="normal" text-anchor="start" textLength="52.5" lengthAdjust="spacingAndGlyphs">provided</text>
<text x="101.30000000000001" y="392.8" font-size="12.4" fill="#000" font-weight="normal" text-anchor="start" textLength="13.8" lengthAdjust="spacingAndGlyphs">by</text>
<text x="118.5" y="392.8" font-size="12.4" fill="#000" font-weight="normal" text-anchor="start" textLength="42.0" lengthAdjust="spacingAndGlyphs">eSignal</text>
<text x="164.3" y="392.8" font-size="12.4" fill="#000" font-weight="normal" text-anchor="start" textLength="63.7" lengthAdjust="spacingAndGlyphs">Interactive</text>
</svg>
</body></html>
